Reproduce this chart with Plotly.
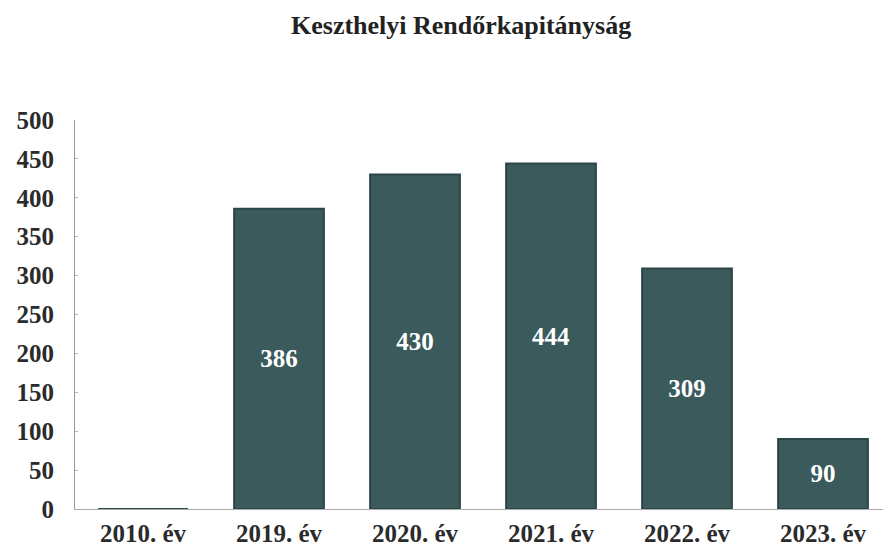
import plotly.graph_objects as go

categories = ["2010. év", "2019. év", "2020. év", "2021. év", "2022. év", "2023. év"]
values = [0, 386, 430, 444, 309, 90]
labels = ["", "386", "430", "444", "309", "90"]
y_ticks = [0, 50, 100, 150, 200, 250, 300, 350, 400, 450, 500]
title_text = "Keszthelyi Rendőrkapitányság"

FONT = "Liberation Serif"

fig = go.Figure()
fig.add_trace(go.Bar(
    x=categories,
    y=values,
    text=labels,
    textposition="inside",
    insidetextanchor="middle",
    textangle=0,
    textfont=dict(family=FONT, size=25, color="white", weight="bold"),
    marker=dict(color="#3a5a5c", line=dict(color="#2c4546", width=2)),
    width=0.66,
    hoverinfo="x+y",
))

fig.update_layout(
    width=891, height=553,
    margin=dict(l=65, r=8, t=112, b=52),
    paper_bgcolor="white",
    plot_bgcolor="white",
    showlegend=False,
    font=dict(family=FONT, color="#2b2b2b"),
    annotations=[dict(
        text="<b>" + title_text + "</b>",
        xref="paper", yref="paper", x=0.473, y=1.285,
        xanchor="center", yanchor="top", showarrow=False,
        font=dict(family=FONT, size=26, color="#222"),
    )],
)
fig.update_xaxes(
    showgrid=False, showline=True, linecolor="#aaaaaa", linewidth=1,
    ticks="", tickfont=dict(family=FONT, size=25, color="#2b2b2b", weight="bold"),
    ticklabelstandoff=2,
)
fig.update_yaxes(
    range=[0, 500], tickvals=y_ticks, showgrid=False, zeroline=False,
    showline=True, linecolor="#999999", linewidth=1,
    ticks="inside", ticklen=3, tickcolor="#bbbbbb",
    tickfont=dict(family=FONT, size=25, color="#2b2b2b", weight="bold"),
    ticklabelstandoff=15,
)

fig.write_html("out.html")
